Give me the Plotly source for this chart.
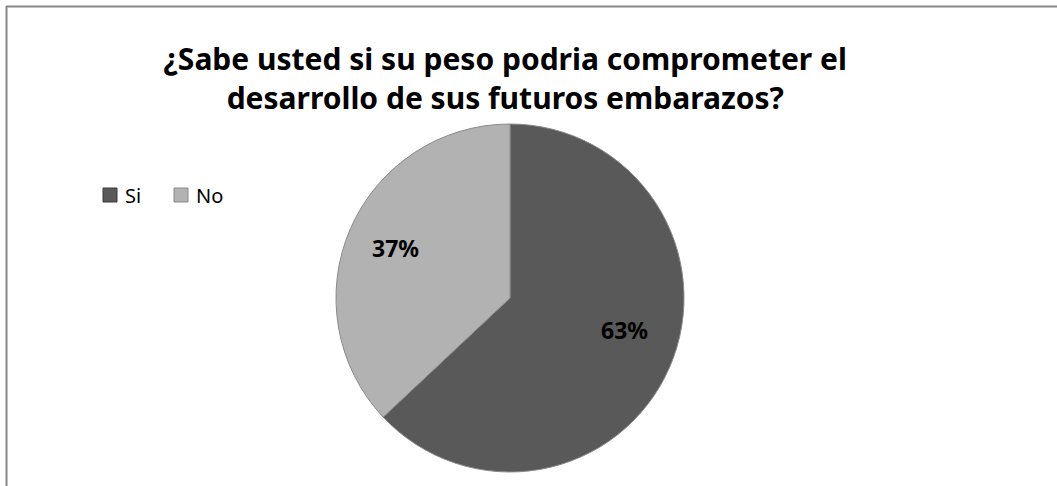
import math
import plotly.graph_objects as go

# Survey answers and their shares
categories = ["Si", "No"]
shares = [63, 37]
slice_colors = ["#595959", "#b2b2b2"]

W, H = 1057, 486

# Pie placement in pixels
cx, cy, r = 510, 298, 174
label_frac = 0.72

fig = go.Figure(
    go.Pie(
        labels=categories,
        values=shares,
        sort=False,
        direction="clockwise",
        rotation=0,
        marker=dict(colors=slice_colors, line=dict(color="#8a8a8a", width=1)),
        textinfo="none",
        hoverinfo="label+percent",
        showlegend=False,
        domain=dict(x=[(cx - r) / W, (cx + r) / W], y=[(H - cy - r) / H, (H - cy + r) / H]),
    )
)

# Percentage labels placed along each slice's bisector
total = sum(shares)
start = 0.0
annotations = []
for share in shares:
    mid = (start + share / 2) / total * 2 * math.pi
    start += share
    px = cx + label_frac * r * math.sin(mid)
    py = cy - label_frac * r * math.cos(mid)
    annotations.append(dict(
        x=px / W, y=1 - py / H, xref="paper", yref="paper",
        text=f"<b>{share}%</b>", showarrow=False,
        font=dict(family="Noto Sans", size=23, color="#000000"),
    ))

# Hand-built legend: square swatch followed by the category name
shapes = []
leg_x0, leg_y, leg_step, sw = 103, 195, 71, 14
for i, (name, col) in enumerate(zip(categories, slice_colors)):
    x0 = leg_x0 + i * leg_step
    shapes.append(dict(
        type="rect", xref="paper", yref="paper",
        x0=x0 / W, x1=(x0 + sw) / W, y0=1 - (leg_y + sw / 2) / H, y1=1 - (leg_y - sw / 2) / H,
        fillcolor=col, line=dict(color="#3a3a3a" if i == 0 else "#8a8a8a", width=1),
    ))
    annotations.append(dict(
        x=(x0 + sw + 6) / W, y=1 - leg_y / H, xref="paper", yref="paper",
        xanchor="left", yanchor="middle", text=name, showarrow=False,
        font=dict(family="Noto Sans", size=20, color="#000000"),
    ))

# Frame lines along the top and left edges
shapes += [
    dict(type="line", xref="paper", yref="paper", x0=6 / W, x1=1, y0=1 - 6.5 / H, y1=1 - 6.5 / H,
         line=dict(color="#888888", width=2)),
    dict(type="line", xref="paper", yref="paper", x0=6.5 / W, x1=6.5 / W, y0=0, y1=1 - 6 / H,
         line=dict(color="#888888", width=2)),
]

fig.update_layout(
    width=W,
    height=H,
    margin=dict(l=0, r=0, t=0, b=0),
    paper_bgcolor="white",
    plot_bgcolor="white",
    title=dict(
        text="<b>¿Sabe usted si su peso podria comprometer el<br>desarrollo de sus futuros embarazos?</b>",
        x=0.478,
        xanchor="center",
        y=1 - 70 / H,
        yanchor="middle",
        font=dict(family="Noto Sans", size=30, color="#000000"),
    ),
    annotations=annotations,
    shapes=shapes,
)

fig.write_html("out.html")
